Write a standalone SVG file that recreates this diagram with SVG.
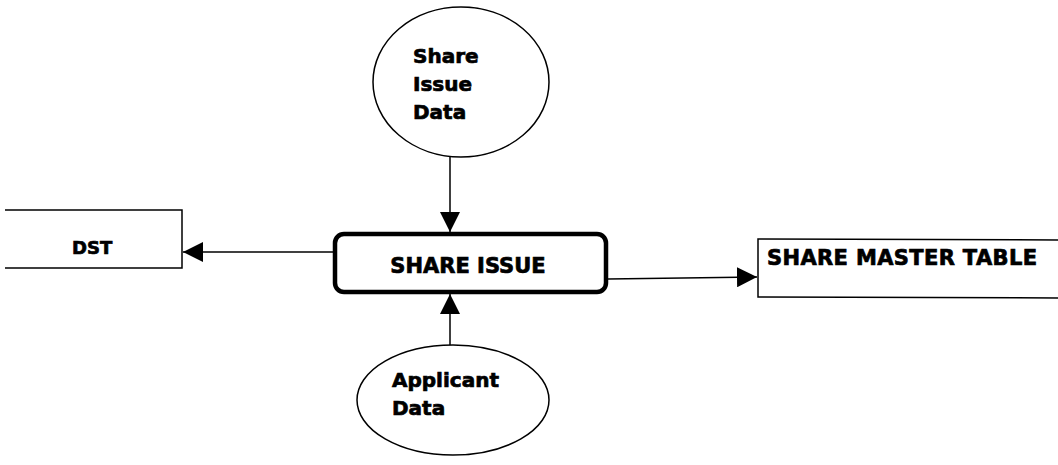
<svg xmlns="http://www.w3.org/2000/svg" width="1058" height="465" viewBox="0 0 1058 465">
<defs>
<style>
.t{font-family:"DejaVu Sans","Liberation Sans",sans-serif;font-weight:bold;fill:#000;stroke:#000;stroke-width:0.7}
.s{fill:#fff;stroke:#000;stroke-width:1.5}
.c{stroke:#000;stroke-width:1.5;fill:none}
</style>
<marker id="ah" viewBox="0 0 20 20" refX="20" refY="10" markerWidth="20" markerHeight="20" markerUnits="userSpaceOnUse" orient="auto">
<path d="M0,0 L20,10 L0,20 Z" fill="#000"/>
</marker>
</defs>
<rect width="1058" height="465" fill="#fff"/>
<g id="share-issue-data">
<ellipse class="s" cx="461" cy="82" rx="88" ry="75"/>
<text class="t" x="413" y="63" font-size="20">Share</text>
<text class="t" x="413" y="91" font-size="20">Issue</text>
<text class="t" x="413" y="119" font-size="20">Data</text>
</g>
<g id="share-issue">
<rect x="335" y="234" width="271" height="58" rx="9" fill="#fff" stroke="#000" stroke-width="4.5"/>
<text class="t" x="468" y="273" font-size="21" text-anchor="middle">SHARE ISSUE</text>
</g>
<g id="dst">
<path class="c" d="M5,210 L182,210 L182,268 L5,268"/>
<text class="t" x="72" y="254" font-size="18">DST</text>
</g>
<g id="share-master-table">
<path class="c" d="M1058,240 L758,239 L758,297 L1058,298"/>
<text class="t" x="767" y="265" font-size="21" textLength="270" lengthAdjust="spacing">SHARE MASTER TABLE</text>
</g>
<g id="applicant-data">
<ellipse class="s" cx="453" cy="400" rx="96" ry="55"/>
<text class="t" x="392" y="387" font-size="20">Applicant</text>
<text class="t" x="392" y="415" font-size="20">Data</text>
</g>
<g id="connectors">
<line class="c" x1="450" y1="157" x2="450" y2="232" marker-end="url(#ah)"/>
<line class="c" x1="333" y1="252" x2="183" y2="252" marker-end="url(#ah)"/>
<line class="c" x1="608" y1="279" x2="757" y2="277" marker-end="url(#ah)"/>
<line class="c" x1="450" y1="345" x2="450" y2="294" marker-end="url(#ah)"/>
</g>
</svg>
